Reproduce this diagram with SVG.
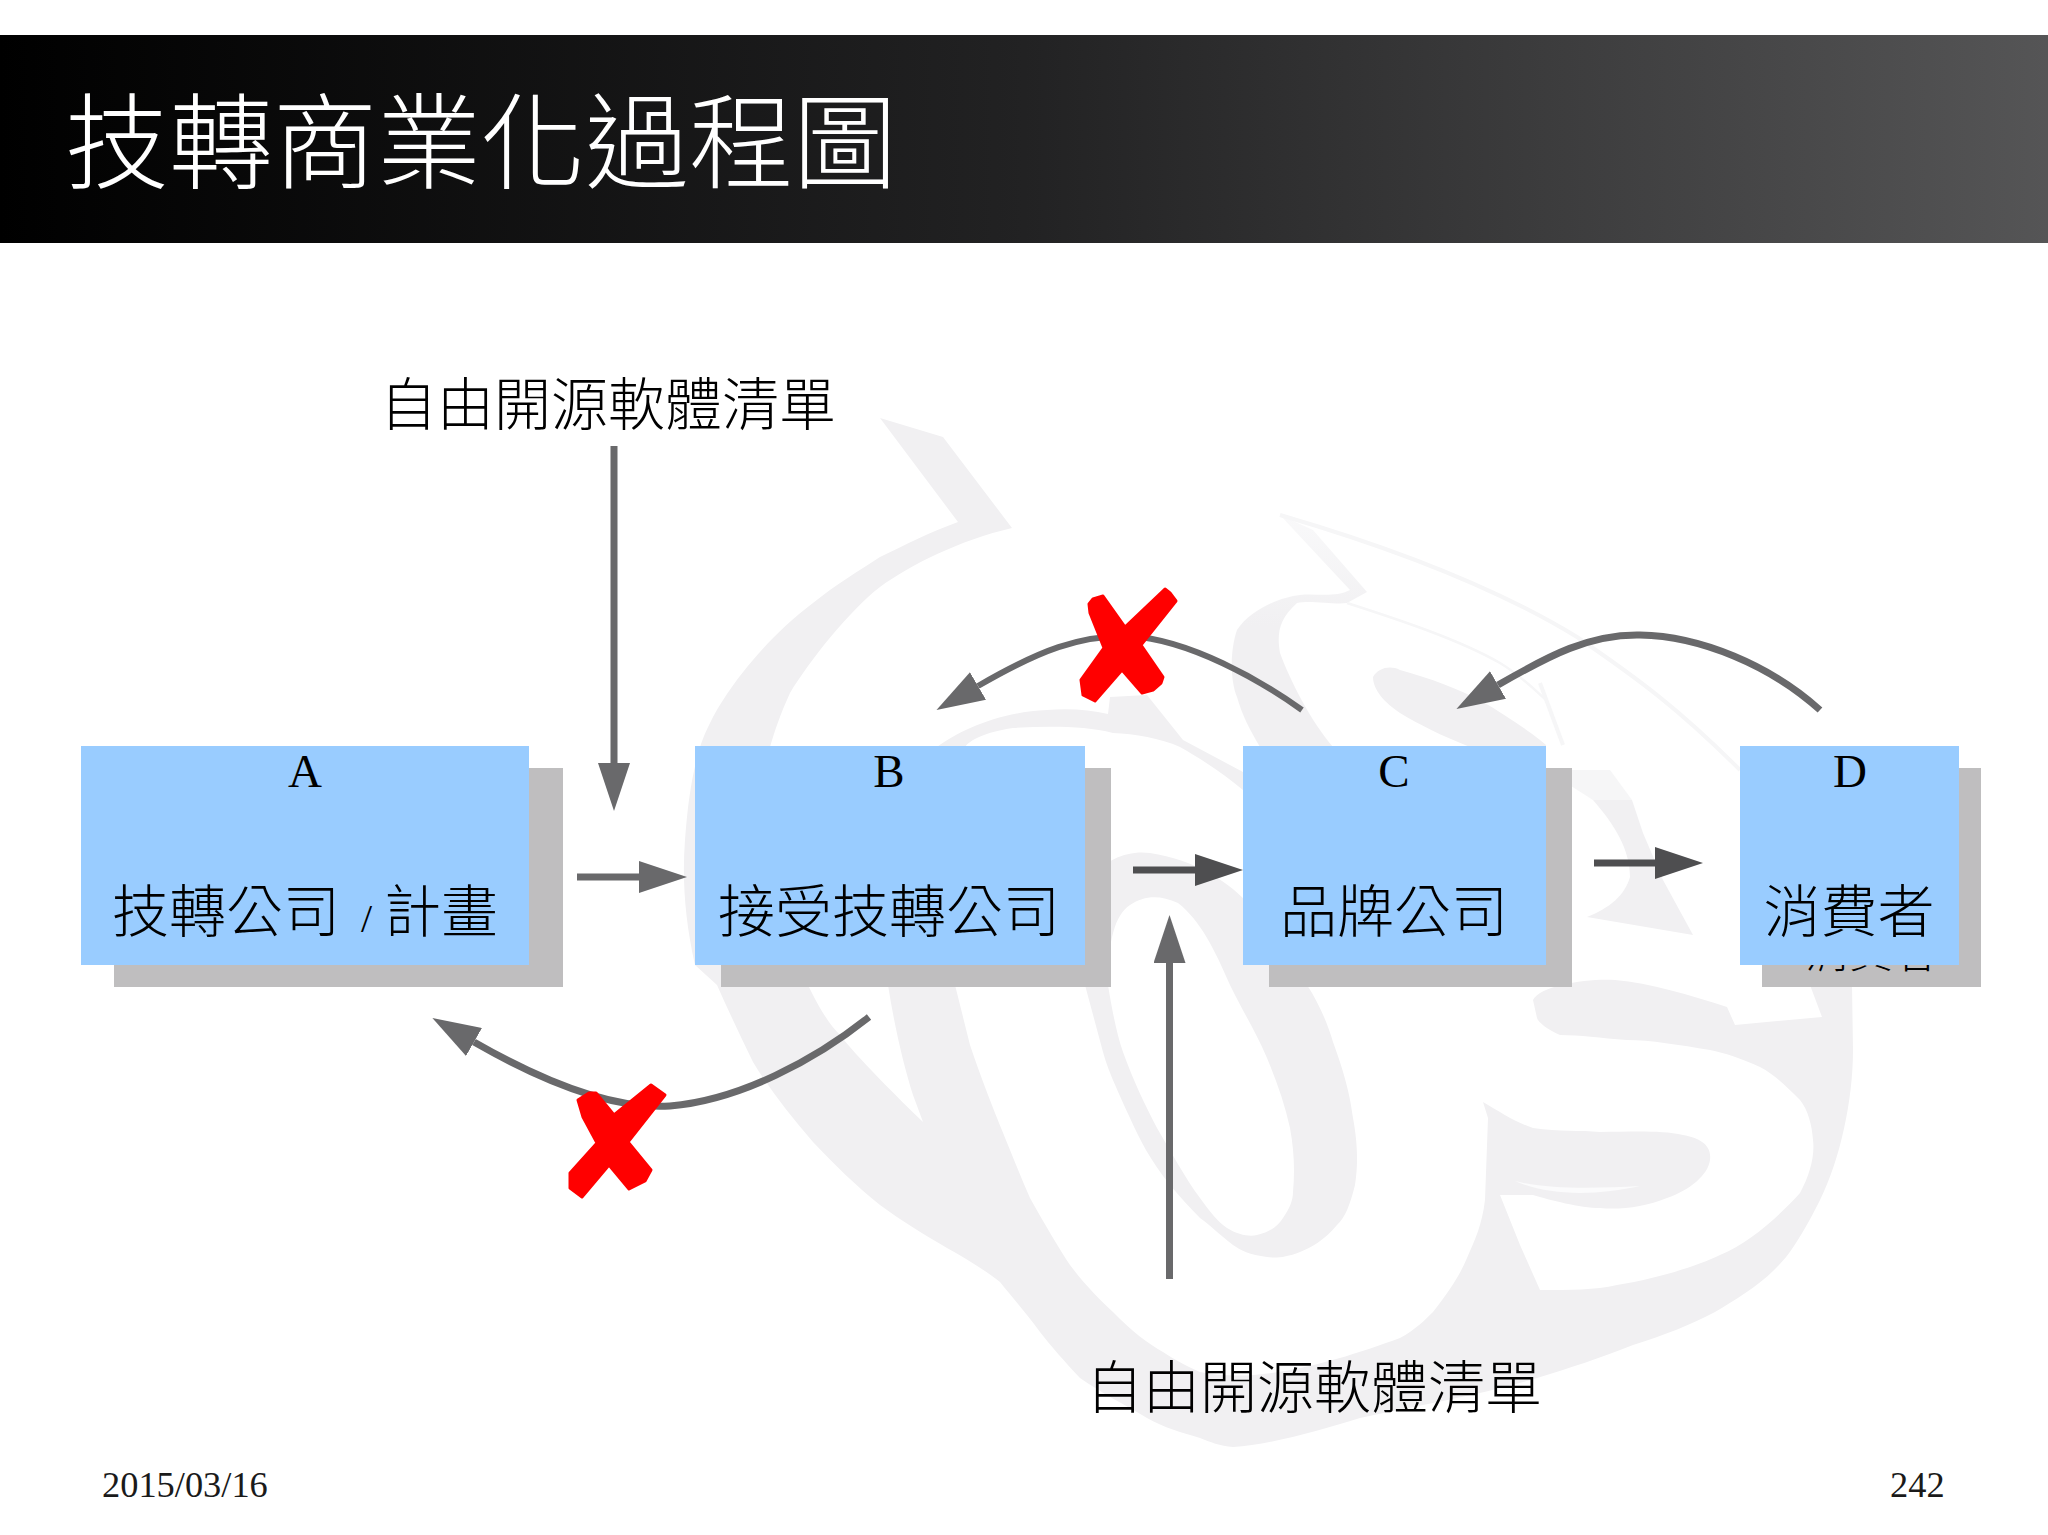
<svg xmlns="http://www.w3.org/2000/svg" width="2048" height="1535" viewBox="0 0 2048 1535">
<style>
text{font-family:"Liberation Serif","Noto Sans CJK TC","Noto Sans CJK JP",serif;fill:#000}
.box{fill:#99ccff}
.shadow{fill:#bfbebf}
.wm{fill:#f1f0f2}
.faint{fill:none;stroke:#f6f6f7}
.cjk{font-size:57px;text-anchor:middle;font-weight:300}
.letter{font-size:47px;text-anchor:middle}
.foot{font-size:36.4px;fill:#1a1a1a}
.conn{fill:none;stroke:#69696b;stroke-width:7}
.dark{stroke:#4e4e50}
.thin{stroke-width:6}
.x{fill:#ff0000;stroke:#ff0000;stroke-width:3;stroke-linejoin:round}
</style>
<defs>
<linearGradient id="hdr" x1="0" y1="0" x2="1" y2="0"><stop offset="0" stop-color="#000"/><stop offset="0.5" stop-color="#222223"/><stop offset="1" stop-color="#555556"/></linearGradient>
<linearGradient id="hook" gradientUnits="userSpaceOnUse" x1="0" y1="515" x2="0" y2="625"><stop offset="0" stop-color="#f9f9fa"/><stop offset="1" stop-color="#f1f0f2"/></linearGradient>
<marker id="head" markerUnits="userSpaceOnUse" markerWidth="48" markerHeight="32" refX="0" refY="16" orient="auto"><path d="M0,0L48,16L0,32Z" fill="#69696b"/></marker>
<marker id="headDark" markerUnits="userSpaceOnUse" markerWidth="48" markerHeight="32" refX="0" refY="16" orient="auto"><path d="M0,0L48,16L0,32Z" fill="#4e4e50"/></marker>
</defs>
<rect width="2048" height="1535" fill="#ffffff"/>
<g id="watermark">
<path class="wm" d="M880,418 L943,437 L1012,528 C960,540 910,565 880,587 C850,610 810,660 790,693 C780,715 775,730 770,747 L770,900 L808,985 C820,1010 830,1025 840,1035 C855,1055 900,1100 923,1122 L913,1095 C905,1070 895,1030 888,985 L870,800 L880,747 L1040,747 L1040,800 L955,985 C960,1005 965,1025 970,1045 C980,1075 990,1100 997,1118 C1010,1150 1020,1175 1030,1198 C1045,1225 1060,1250 1070,1265 C1085,1285 1100,1300 1113,1312 C1130,1330 1150,1345 1163,1352 C1175,1360 1190,1368 1200,1372 C1260,1385 1340,1360 1400,1338 C1415,1330 1425,1320 1433,1312 C1450,1290 1460,1275 1467,1258 C1475,1240 1482,1225 1485,1200 L1488,1118 L1483,1102 C1500,1112 1515,1122 1533,1128 C1560,1132 1580,1130 1600,1132 C1630,1132 1660,1130 1683,1135 C1700,1138 1712,1145 1710,1160 C1708,1175 1690,1190 1667,1198 C1645,1207 1620,1210 1600,1208 C1580,1208 1550,1200 1533,1195 L1500,1195 L1520,1245 L1540,1290 C1570,1290 1595,1290 1617,1285 C1660,1278 1700,1265 1720,1255 C1750,1243 1780,1215 1800,1193 C1810,1175 1815,1155 1813,1140 C1812,1125 1808,1110 1800,1100 C1785,1085 1775,1075 1760,1067 C1740,1058 1725,1053 1710,1050 C1680,1045 1650,1040 1627,1040 C1600,1038 1580,1035 1560,1035 C1548,1030 1538,1022 1537,1018 L1533,1000 C1540,985 1590,978 1615,980 C1650,983 1690,995 1727,1007 L1735,1025 L1822,1017 L1810,985 L1852,985 L1853,1050 C1853,1100 1840,1160 1820,1200 C1805,1230 1790,1255 1777,1267 C1760,1285 1735,1300 1715,1312 C1690,1325 1665,1335 1633,1345 C1600,1358 1570,1368 1537,1378 C1480,1395 1420,1405 1360,1418 C1320,1430 1270,1445 1233,1447 C1220,1446 1210,1442 1200,1438 C1180,1432 1165,1428 1147,1418 C1125,1405 1100,1392 1080,1378 C1065,1362 1050,1345 1040,1332 C1025,1312 1012,1297 1000,1282 C985,1270 965,1258 947,1248 C925,1235 900,1220 880,1205 C855,1185 835,1165 813,1142 C790,1115 770,1090 753,1062 C740,1035 728,1010 717,985 L695,965 C685,920 682,880 685,840 C688,800 692,775 700,747 C704,735 708,727 713,717 C725,695 740,675 753,660 C770,640 790,620 813,603 C835,585 860,570 880,557 C905,545 930,532 958,522 Z"/>
<path class="wm" d="M937,747 C960,730 1000,712 1047,710 C1070,708 1090,710 1108,714 L1110,697 L1147,695 L1183,740 L1243,772 L1243,790 C1225,775 1200,758 1180,747 C1160,738 1135,734 1113,733 C1085,726 1050,726 1013,728 C985,732 970,740 965,747 Z"/>
<path class="wm" fill-rule="evenodd" d="M1085,985 L1090,880 C1105,858 1130,850 1150,853 C1195,860 1225,880 1245,900 L1307,985 C1320,1005 1328,1025 1333,1042 C1345,1075 1350,1095 1353,1118 C1358,1145 1358,1165 1355,1185 C1350,1205 1345,1218 1337,1225 C1325,1240 1310,1248 1300,1252 C1285,1258 1275,1258 1267,1257 C1250,1255 1240,1250 1233,1245 C1220,1235 1210,1225 1200,1218 C1190,1208 1180,1197 1170,1185 C1150,1160 1140,1140 1130,1118 C1115,1085 1108,1070 1103,1052 Z M1108,985 C1112,1010 1117,1035 1123,1052 C1133,1080 1145,1105 1157,1128 C1170,1150 1185,1178 1200,1198 C1210,1212 1218,1222 1227,1228 C1238,1235 1250,1237 1257,1235 C1270,1232 1278,1226 1283,1218 C1290,1208 1293,1200 1293,1192 C1295,1170 1294,1150 1290,1128 C1285,1105 1277,1082 1267,1058 C1255,1030 1242,1010 1230,985 C1215,950 1200,920 1178,903 C1160,895 1145,895 1130,905 C1115,915 1108,940 1108,985 Z"/>
<path fill="url(#hook)" d="M1280,515 L1350,590 C1335,598 1315,593 1300,595 C1280,597 1250,610 1237,630 C1230,650 1230,680 1237,697 C1242,715 1250,730 1260,747 L1333,747 C1310,720 1290,680 1280,653 C1277,635 1278,620 1297,603 C1310,600 1335,605 1347,603 L1367,592 L1313,530 Z"/>
<path class="wm" d="M1373,677 C1378,668 1390,665 1400,670 C1430,678 1460,690 1480,700 C1510,718 1535,735 1546,745 L1546,747 L1470,747 C1440,735 1420,725 1400,713 C1385,703 1373,690 1373,677 Z"/>
<path class="wm" d="M1593,800 C1615,825 1630,850 1630,877 C1625,895 1610,908 1587,917 L1693,935 L1663,880 L1643,833 L1632,800 Z"/>
<path d="M1546,770 L1610,770 L1632,800 L1593,800 Z" fill="#f6f6f7"/>
<path class="faint" stroke-width="2.5" d="M1347,603 C1400,620 1460,640 1500,663 C1520,675 1535,690 1546,700"/>
<path class="faint" stroke-width="4" d="M1280,515 C1400,550 1500,590 1577,637 C1640,680 1680,710 1740,770"/>
<path class="faint" stroke-width="4" d="M1540,683 L1563,745"/>
<path d="M1515,1181 C1550,1190 1600,1188 1640,1186 C1600,1195 1550,1197 1515,1181 Z" fill="#fbfbfc"/>
</g>
<g id="header">
<rect x="0" y="35" width="2048" height="208" fill="url(#hdr)"/>
<text x="65" y="181" font-size="104" style="fill:#fff;font-weight:300">技轉商業化過程圖</text>
</g>
<g id="node-a">
<rect class="shadow" x="114" y="768" width="449" height="219"/>
<rect class="box" x="81" y="746" width="448" height="219"/>
<text class="letter" x="305" y="787">A</text>
<text x="112" y="932" font-size="57" font-weight="300">技轉公司 <tspan x="361" font-size="40">/</tspan><tspan x="384">計畫</tspan></text>
</g>
<g id="node-b">
<rect class="shadow" x="721" y="768" width="390" height="219"/>
<rect class="box" x="695" y="746" width="390" height="219"/>
<text class="letter" x="889" y="787">B</text>
<text class="cjk" x="889" y="932">接受技轉公司</text>
</g>
<g id="node-c">
<rect class="shadow" x="1269" y="768" width="303" height="219"/>
<rect class="box" x="1243" y="746" width="303" height="219"/>
<text class="letter" x="1394" y="787">C</text>
<text class="cjk" x="1394" y="932">品牌公司</text>
</g>
<g id="node-d">
<rect class="shadow" x="1762" y="768" width="219" height="219"/>
<text x="1871" y="968" font-size="44" text-anchor="middle" font-weight="300">消費者</text>
<rect class="box" x="1740" y="746" width="219" height="219"/>
<text class="letter" x="1850" y="787">D</text>
<text class="cjk" x="1849" y="932">消費者</text>
</g>
<g id="label-top"><text class="cjk" x="608" y="425">自由開源軟體清單</text></g>
<g id="label-bottom"><text class="cjk" x="1314" y="1408">自由開源軟體清單</text></g>
<g id="connectors">
<path class="conn" marker-end="url(#head)" d="M577,877H639"/>
<path class="conn" marker-end="url(#head)" d="M614,446V763"/>
<path class="conn dark" marker-end="url(#headDark)" d="M1133,870H1195"/>
<path class="conn dark" marker-end="url(#headDark)" d="M1594,863H1655"/>
<path class="conn" marker-end="url(#head)" d="M1169.5,1279V963"/>
<path class="conn" marker-end="url(#head)" d="M1820,710C1770,665 1700,636 1640,635C1590,634 1550,655 1498,685"/>
<path class="conn thin" marker-end="url(#head)" d="M1302,710C1260,680 1190,640 1130,636C1080,635 1040,650 978,686"/>
<path class="conn" marker-end="url(#head)" d="M869,1017C815,1060 740,1100 670,1106C610,1110 535,1077 474,1042"/>
</g>
<g id="cross-top"><path class="x" d="M1089,604L1093,599L1103,596L1125,627L1165,589L1170,593L1176,601L1141,645L1163,677L1161,683L1153,690L1142,693L1122,670L1095,701L1083,695L1081,680L1104,648L1090,613Z"/></g>
<g id="cross-bottom"><path class="x" d="M578,1100L589,1093L596,1093L614,1115L651,1085L665,1095L628,1142L651,1170L645,1181L629,1189L609,1165L582,1197L570,1188L570,1173L597,1143L583,1117Z"/></g>
<g id="footer">
<text class="foot" x="102" y="1497">2015/03/16</text>
<text class="foot" x="1890" y="1497">242</text>
</g>
</svg>
